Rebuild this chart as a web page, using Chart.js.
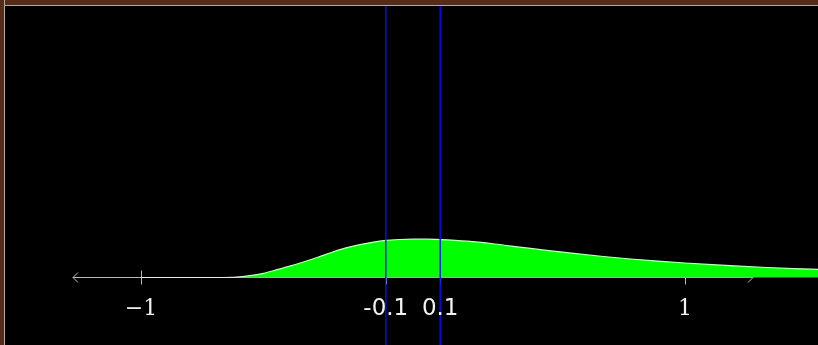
<!DOCTYPE html>
<html lang="en">
<head>
    <meta charset="UTF-8">
    <title>Density curve</title>
    <script src="https://cdn.jsdelivr.net/npm/chart.js@4.4.0/dist/chart.umd.min.js"></script>
    <style>
        html, body { margin: 0; padding: 0; background: #000; overflow: hidden; }
        .wrap { position: relative; width: 818px; height: 345px; }
        .frame-top { position: absolute; left: 0; top: 0; width: 818px; height: 5px; background: #562c19; border-bottom: 1px solid #b3a89f; z-index: 2; }
        .frame-left { position: absolute; left: 0; top: 0; width: 4px; height: 345px; background: #562c19; border-right: 1px solid #b3a89f; z-index: 3; }
    </style>
</head>
<body>
    <div class="wrap">
        <canvas id="myChart"></canvas>
        <div class="frame-top"></div>
        <div class="frame-left"></div>
    </div>

    <script>
        // curve (height above axis)
        const curveX = [-1.0, -0.7, -0.65, -0.6, -0.55, -0.5, -0.45, -0.4, -0.35, -0.3, -0.25, -0.2, -0.15,
                        -0.1, -0.05, 0, 0.05, 0.1, 0.2, 0.3, 0.4, 0.5, 0.6, 0.7, 0.8, 0.9, 1.0, 1.1, 1.2, 1.3, 1.4, 1.5];
        const curveY = [0, 0, 0.003, 0.018, 0.042, 0.078, 0.116, 0.158, 0.203, 0.25, 0.293, 0.326, 0.352,
                        0.371, 0.380, 0.383, 0.383, 0.379, 0.363, 0.335, 0.301, 0.268, 0.238, 0.21, 0.185, 0.164,
                        0.145, 0.128, 0.113, 0.100, 0.089, 0.080];

        const axisEnds = [-1.25, 1.25];
        const majorTicks = [-1, 1];
        const majorLabels = ['\u22121', '1'];
        const markers = [-0.1, 0.1];
        const markerLabels = ['-0.1', '0.1'];

        const points = curveX.map((x, i) => ({ x: x, y: curveY[i] }));

        // axis line, ticks, arrows and labels drawn from the scales
        const axisPlugin = {
            id: 'numberLine',
            beforeDatasetsDraw(chart) {
                const c = chart.ctx;
                const xs = chart.scales.x, ys = chart.scales.y;
                const y0 = ys.getPixelForValue(0);
                const xa = xs.getPixelForValue(axisEnds[0]);
                const xb = xs.getPixelForValue(axisEnds[1]);
                c.save();
                c.strokeStyle = '#b8b8b8';
                c.lineWidth = 1;
                c.beginPath();
                c.moveTo(xa, y0); c.lineTo(xb, y0);
                // arrow heads
                c.moveTo(xa + 5, y0 - 5); c.lineTo(xa, y0); c.lineTo(xa + 5, y0 + 5);
                c.moveTo(xb - 5, y0 - 5); c.lineTo(xb, y0); c.lineTo(xb - 5, y0 + 5);
                majorTicks.concat(markers).forEach(v => {
                    const px = Math.round(xs.getPixelForValue(v)) + 0.5;
                    c.moveTo(px, y0 - 7); c.lineTo(px, y0 + 7);
                });
                c.stroke();
                c.restore();
            },
            afterDatasetsDraw(chart) {
                const c = chart.ctx;
                const xs = chart.scales.x, ys = chart.scales.y;
                const y0 = ys.getPixelForValue(0);
                c.save();
                // blue marker lines
                c.strokeStyle = '#0a0aff';
                c.lineWidth = 1.4;
                markers.forEach(v => {
                    const px = xs.getPixelForValue(v);
                    c.beginPath();
                    c.moveTo(px, 0); c.lineTo(px, chart.height);
                    c.stroke();
                });
                c.textAlign = 'center';
                c.textBaseline = 'alphabetic';
                c.fillStyle = '#f2f2f2';
                c.font = '22px "DejaVu Serif"';
                majorTicks.forEach((v, i) => {
                    c.fillText(majorLabels[i], xs.getPixelForValue(v), y0 + 37);
                });
                c.font = '23px "DejaVu Sans"';
                markers.forEach((v, i) => {
                    c.fillText(markerLabels[i], xs.getPixelForValue(v), y0 + 37);
                });
                c.restore();
            }
        };

        const ctx = document.getElementById('myChart').getContext('2d');
        const chart = new Chart(ctx, {
            type: 'line',
            data: {
                datasets: [{
                    data: points,
                    fill: 'origin',
                    backgroundColor: '#00ff00',
                    borderColor: '#e8e8e8',
                    borderWidth: 1.2,
                    pointRadius: 0,
                    cubicInterpolationMode: 'monotone'
                }]
            },
            options: {
                responsive: true,
                maintainAspectRatio: false,
                animation: false,
                layout: { padding: 0 },
                plugins: {
                    legend: { display: false },
                    tooltip: { enabled: false }
                },
                scales: {
                    x: { type: 'linear', display: false, min: -1.5184, max: 1.489 },
                    y: { type: 'linear', display: false, min: -0.675, max: 2.775 }
                }
            },
            plugins: [axisPlugin]
        });
    </script>
</body>
</html>
